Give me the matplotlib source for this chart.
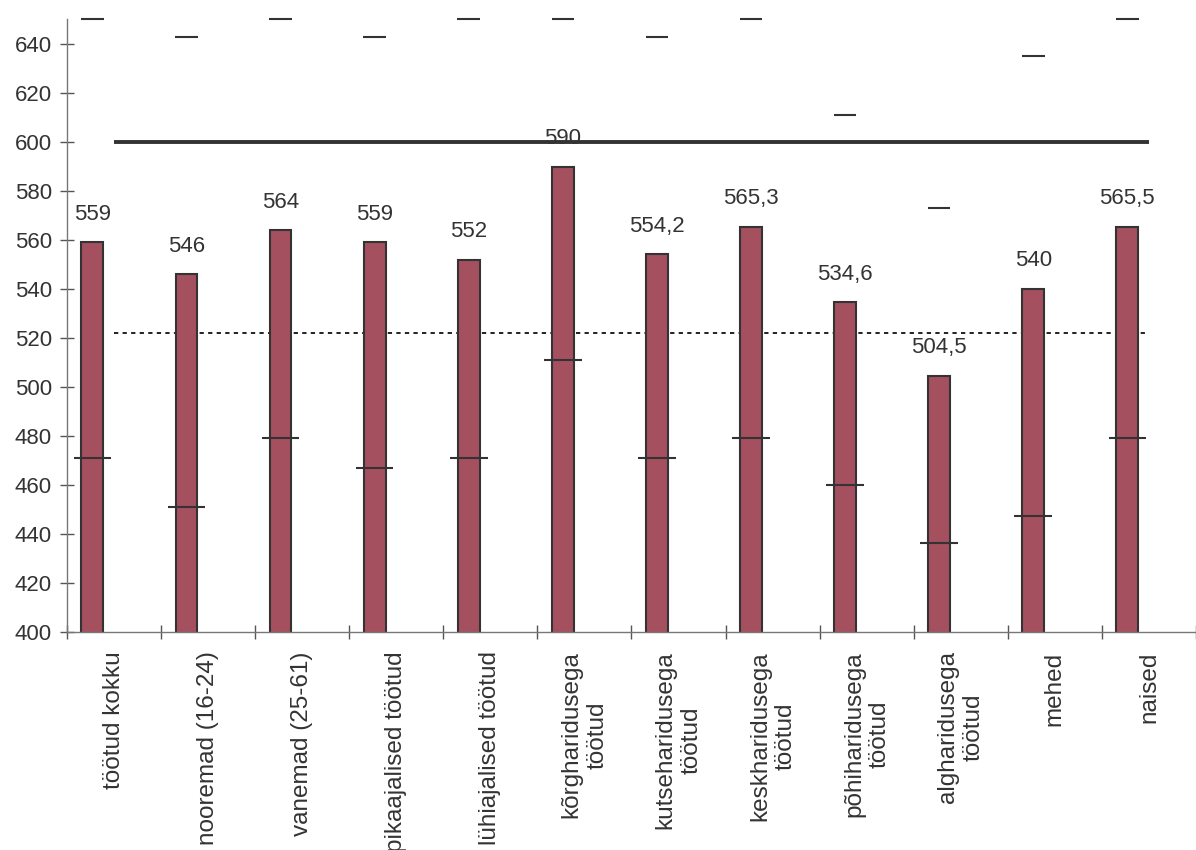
import numpy as np
import matplotlib
matplotlib.use("Agg")
import matplotlib.pyplot as plt

plt.rcParams['font.family'] = ['Liberation Sans', 'DejaVu Sans']

categories = ["töötud kokku", "nooremad (16-24)", "vanemad (25-61)",
              "pikaajalised töötud", "lühiajalised töötud",
              "kõrgharidusega\ntöötud", "kutseharidusega\ntöötud",
              "keskharidusega\ntöötud", "põhiharidusega\ntöötud",
              "algharidusega\ntöötud", "mehed", "naised"]
values = [559, 546, 564, 559, 552, 590, 554.2, 565.3, 534.6, 504.5, 540, 565.5]
low = [471, 451, 479, 467, 471, 511, 471, 479, 460, 436.5, 447.5, 479]
high = [650, 643, 650, 643, 650, 650, 643, 650, 611, 573, 635, 650]
level_solid = 600
level_dotted = 522

dark = "#333333"
fig = plt.figure(figsize=(11.96, 8.5), dpi=100)
ax = fig.add_axes([67/1196, 1 - 632/850, 1 - 67/1196, (632 - 19.5)/850])

n = len(categories)
idx = np.arange(n)
xb = idx - 0.23

ax.bar(xb, values, width=0.232, color="#A5505F", edgecolor=dark, linewidth=1.5, zorder=2)
ax.hlines(low, xb - 0.2, xb + 0.2, color=dark, linewidth=1.5, zorder=3)
ax.hlines(high, xb - 0.12, xb + 0.12, color=dark, linewidth=1.5, zorder=3, clip_on=False)

ax.hlines(level_solid, idx[0], idx[-1], color=dark, linewidth=2.8, zorder=1)
ax.hlines(level_dotted, idx[0], idx[-1], color="#222222", linewidth=1.4,
          linestyles=(0, (2.2, 2.2)), zorder=1)

for x, v in zip(xb, values):
    lab = ("%g" % v).replace(".", ",")
    ax.text(x, v + 11.5, lab, ha="center", va="center", fontsize=16, color=dark, zorder=4)

ax.set_ylim(400, 650)
ax.set_xlim(-0.5, -0.5 + 1129 / 94.78)
ax.set_yticks(np.arange(400, 641, 20))
ax.tick_params(axis="y", direction="inout", length=10, width=1, color="#555555",
               labelsize=16, labelcolor=dark, pad=6)

ax.set_xticks(np.arange(-0.5, n, 1))
ax.set_xticklabels([])
ax.set_xticks(idx, minor=True)
ax.set_xticklabels(categories, minor=True, rotation=90, fontsize=17.5, color=dark,
                   va="top", ha="center", multialignment="center")
ax.tick_params(axis="x", which="major", direction="inout", length=10, width=1, color="#555555")
ax.tick_params(axis="x", which="minor", length=0, pad=14)

for s in ["top", "right"]:
    ax.spines[s].set_visible(False)
for s in ["left", "bottom"]:
    ax.spines[s].set_color("#777777")
    ax.spines[s].set_linewidth(1)

fig.savefig("out.png", dpi=100)
